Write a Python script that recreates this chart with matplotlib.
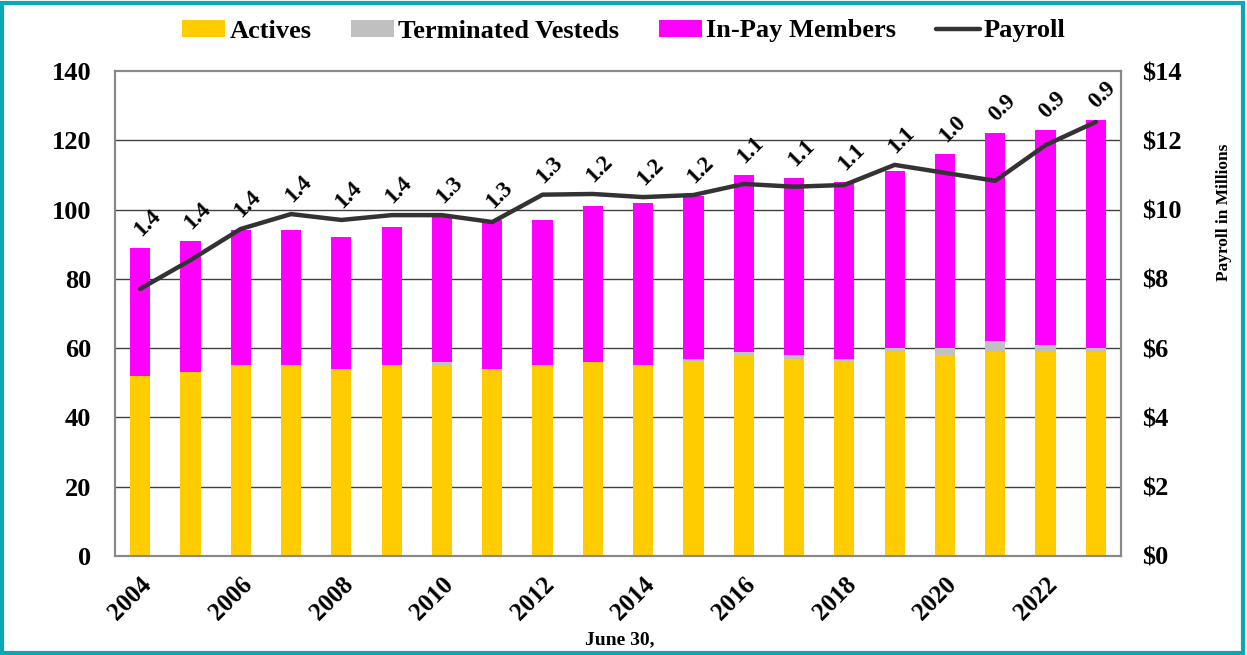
import numpy as np
import matplotlib.pyplot as plt
from matplotlib.patches import Rectangle

# plan years (June 30)
years = list(range(2004, 2024))
actives = [52, 53, 55, 55, 54, 55, 55, 54, 55, 56, 55, 56, 58, 57, 56, 59, 58, 59, 59, 59]
term_vested = [0, 0, 0, 0, 0, 0, 1, 0, 0, 0, 0, 1, 1, 1, 1, 1, 2, 3, 2, 1]
in_pay = [37, 38, 39, 39, 38, 40, 42, 43, 42, 45, 47, 47, 51, 51, 51, 51, 56, 60, 62, 66]
# payroll in $ millions
payroll = [7.71, 8.54, 9.44, 9.87, 9.70, 9.84, 9.84, 9.64, 10.43, 10.45,
           10.36, 10.42, 10.74, 10.66, 10.71, 11.29, 11.06, 10.83, 11.86, 12.53]
# actives per in-pay member, as labelled
ratio_labels = ["1.4", "1.4", "1.4", "1.4", "1.4", "1.4", "1.3", "1.3", "1.3", "1.2",
                "1.2", "1.2", "1.1", "1.1", "1.1", "1.1", "1.0", "0.9", "0.9", "0.9"]

plt.rcParams['font.family'] = ['Liberation Serif', 'DejaVu Serif']
plt.rcParams['font.weight'] = 'bold'

fig = plt.figure(figsize=(12.47, 6.55), dpi=100)
W, H = 1247, 655
ax = fig.add_axes([115 / W, (H - 556) / H, (1121 - 115) / W, (556 - 71) / H])
ax2 = ax.twinx()

x = np.arange(len(years))
act = np.array(actives)
tv = np.array(term_vested)
ip = np.array(in_pay)

ax.bar(x, act, width=0.4, color="#FFCC00", label="Actives", zorder=3)
ax.bar(x, tv, width=0.4, bottom=act, color="#C0C0C0", label="Terminated Vesteds", zorder=3)
ax.bar(x, ip, width=0.4, bottom=act + tv, color="#FF00FF", label="In-Pay Members", zorder=3)

ax2.plot(x, payroll, color="#333333", linewidth=3.2, solid_capstyle="round", label="Payroll", zorder=4)

ax.set_xlim(-0.5, len(years) - 0.5)
ax.set_ylim(0, 140)
ax2.set_ylim(0, 14)
ax.set_yticks(range(0, 141, 20))
ax2.set_yticks(range(0, 15, 2))
ax2.set_yticklabels(["$" + str(v) for v in range(0, 15, 2)])

for yv in range(20, 140, 20):
    ax.axhline(yv, color="#404040", linewidth=1.0, zorder=1)

ax.set_xticks(x[::2])
ax.set_xticklabels([str(y) for y in years[::2]], rotation=45, ha="right", va="top",
                   rotation_mode="anchor")
ax.tick_params(axis="x", length=0, labelsize=18, pad=12)
ax.tick_params(axis="y", length=0, labelsize=19, pad=17)
ax2.tick_params(axis="y", length=0, labelsize=19, pad=15)

for a in (ax, ax2):
    for s in a.spines.values():
        s.set_color("#888888")
        s.set_linewidth(1.5)

ax2.set_ylabel("Payroll in Millions", fontsize=12.5, fontweight="bold")
ax2.yaxis.set_label_coords(1.094, 0.709)
fig.text(620 / W, 1 - 640 / H, "June 30,", ha="center", va="center", fontsize=14, fontweight="bold")

# ratio labels above the bar or the line, whichever is higher
totals = act + tv + ip
for i in range(len(years)):
    top = max(totals[i], payroll[i] * 10)
    ax.annotate(ratio_labels[i], (x[i], top), xytext=(5, 18), textcoords="offset points",
                ha="center", va="center", rotation=45, fontsize=16.5, fontweight="bold", zorder=6)

h1, l1 = ax.get_legend_handles_labels()
h2, l2 = ax2.get_legend_handles_labels()
fig.legend(h1 + h2, l1 + l2, loc="center", bbox_to_anchor=(0.5, 1 - 31 / H), ncol=4,
           frameon=False, fontsize=19, handlelength=1.65, handleheight=0.6,
           handletextpad=0.15, columnspacing=1.5)

fig.patches.append(Rectangle((0.002, 0.003), 0.995, 0.993, transform=fig.transFigure,
                             fill=False, edgecolor="#0AA8B5", linewidth=3))

fig.savefig("out.png", dpi=100)
